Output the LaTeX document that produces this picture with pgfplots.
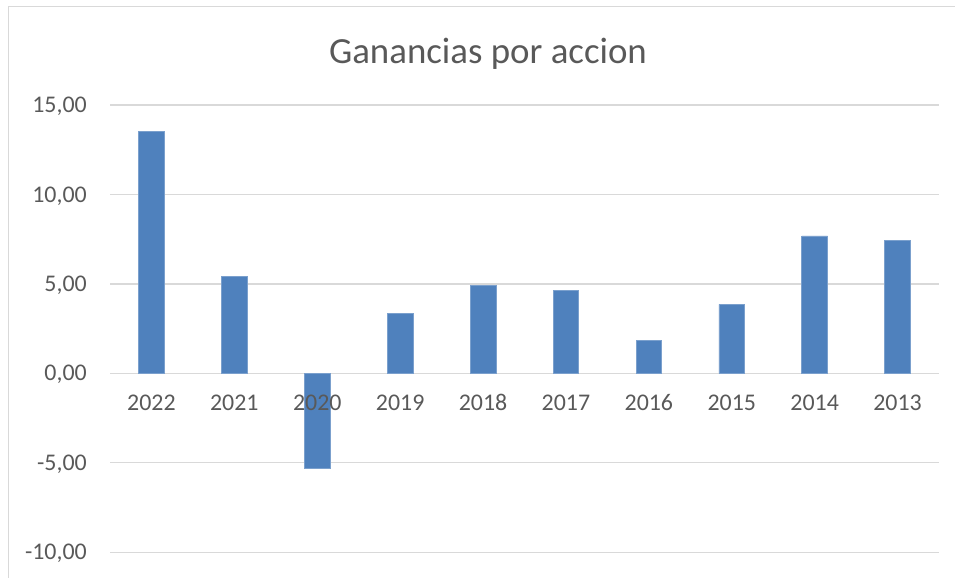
\documentclass[border=0pt]{standalone}
\usepackage{pgfplots}
\pgfplotsset{compat=1.18}
\usepackage{fontspec}
\setmainfont{Carlito}
\definecolor{barblue}{HTML}{4F81BD}
\definecolor{txt}{HTML}{595959}
\definecolor{grd}{HTML}{D9D9D9}
\pgfplotsset{
  common/.style={
    at={(110bp,25.7bp)}, anchor=south west,
    scale only axis, width=829bp, height=447.3bp,
    xmin=-0.5, xmax=9.5, ymin=-10, ymax=15,
    axis x line*=middle, axis y line*=left,
    axis line style={draw=none},
    tick style={draw=none},
    xtick={0,...,9},
    ytick={-10,-5,0,5,10,15},
    ticklabel style={font=\fontsize{24}{28}\selectfont, text=txt, inner sep=0},
  }
}
\begin{document}
\begin{tikzpicture}[x=1bp,y=1bp]
\path[use as bounding box] (0,0) rectangle (955,578);
\draw[grd, line width=1.3bp] (8.5,0) -- (8.5,571.5) -- (955,571.5);
\node[anchor=base, font=\fontsize{37}{44}\selectfont, text=txt, inner sep=0] at (488,514) {Ganancias por accion};
\begin{axis}[
  common,
  ymajorgrids, grid style={grd, line width=1.3bp},
  xticklabels={},
  yticklabels={{-10,00},{-5,00},{0,00},{5,00},{10,00},{15,00}},
  yticklabel style={anchor=base east, xshift=-23bp, yshift=-7.6bp},
  ybar, bar width=25.7bp, bar shift=0pt,
]
\addplot[fill=barblue, draw=barblue!75!white, line width=0.7bp] coordinates {
 (0,13.52) (1,5.41) (2,-5.32) (3,3.36) (4,4.90)
 (5,4.62) (6,1.86) (7,3.86) (8,7.68) (9,7.44)
};
\end{axis}
\begin{axis}[
  common,
  yticklabels={},
  xticklabels={2022,2021,2020,2019,2018,2017,2016,2015,2014,2013},
  xticklabel style={anchor=base, yshift=-37.6bp},
]
\end{axis}
\end{tikzpicture}
\end{document}
